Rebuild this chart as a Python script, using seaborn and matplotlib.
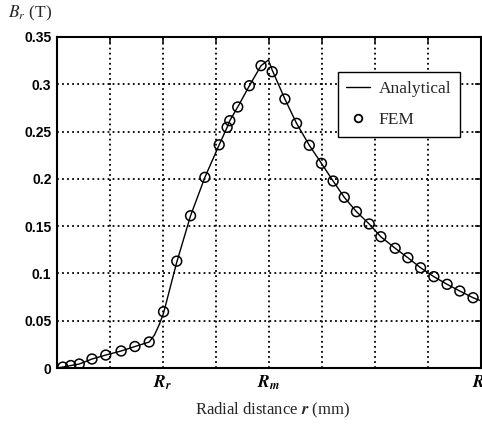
import matplotlib
matplotlib.use("Agg")
import matplotlib.pyplot as plt
import seaborn as sns
import pandas as pd
from matplotlib.lines import Line2D

# Analytical curve (radial position in grid units, B_r in T)
line_x = [0.0, 0.11, 0.26, 0.42, 0.66, 0.92, 1.21, 1.47, 1.74, 1.84, 1.93, 2.01, 2.26, 2.52,
          2.79, 3.06, 3.21, 3.26, 3.41, 3.63, 3.85, 3.99, 4.06, 4.30, 4.52, 4.76, 4.99, 5.21,
          5.42, 5.65, 5.89, 6.11, 6.38, 6.62, 6.86, 7.11, 7.36, 7.60, 7.85, 8.0]
line_y = [0.0, 0.001, 0.0026, 0.0042, 0.0095, 0.0137, 0.018, 0.0227, 0.0275, 0.035, 0.046, 0.058,
          0.112, 0.161, 0.2016, 0.236, 0.2545, 0.2615, 0.276, 0.2985, 0.3197, 0.3257, 0.3150,
          0.2844, 0.2587, 0.2355, 0.2164, 0.1977, 0.1805, 0.1653, 0.1523, 0.1388, 0.1266, 0.1166,
          0.106, 0.0966, 0.0885, 0.0814, 0.0743, 0.071]

# FEM points
fem_x = [0.11, 0.26, 0.42, 0.66, 0.92, 1.21, 1.47, 1.74, 2.01, 2.26, 2.52, 2.79, 3.06, 3.21,
         3.26, 3.41, 3.63, 3.85, 4.06, 4.30, 4.52, 4.76, 4.99, 5.21, 5.42, 5.65, 5.89, 6.11,
         6.38, 6.62, 6.86, 7.11, 7.36, 7.60, 7.85]
fem_y = [0.001, 0.0026, 0.0042, 0.0095, 0.0137, 0.018, 0.0227, 0.0275, 0.0595, 0.113, 0.161,
         0.2016, 0.236, 0.2545, 0.2615, 0.276, 0.2985, 0.3197, 0.3133, 0.2844, 0.2587, 0.2355,
         0.2164, 0.1977, 0.1805, 0.1653, 0.1523, 0.1388, 0.1266, 0.1166, 0.106, 0.0966, 0.0885,
         0.0814, 0.0743]

x_ticks = [0, 1, 2, 3, 4, 5, 6, 7, 8]
x_tick_labels = ["", "", r"$\mathbfit{R}_\mathbfit{r}$", "", r"$\mathbfit{R}_\mathbfit{m}$",
                 "", "", "", r"$\mathbfit{R}_\mathbfit{s}$"]
y_ticks = [0, 0.05, 0.1, 0.15, 0.2, 0.25, 0.3, 0.35]
y_tick_labels = ["0", "0.05", "0.1", "0.15", "0.2", "0.25", "0.3", "0.35"]

sns.set_style("white")
plt.rcParams["font.family"] = ["Liberation Serif", "DejaVu Serif"]
plt.rcParams["mathtext.fontset"] = "stix"

df_line = pd.DataFrame({"r": line_x, "B": line_y})
df_fem = pd.DataFrame({"r": fem_x, "B": fem_y})

fig = plt.figure(figsize=(4.82, 4.28), dpi=100)
ax = fig.add_axes([57 / 482, 1 - 368 / 428, 424 / 482, 331 / 428])

sns.lineplot(data=df_line, x="r", y="B", ax=ax, color="black", linewidth=1.0, zorder=3)
sns.scatterplot(data=df_fem, x="r", y="B", ax=ax, marker="o", s=50,
                facecolor="none", edgecolor="black", linewidth=1.1, zorder=4)

ax.set_xlim(0, 8)
ax.set_ylim(0, 0.35)
ax.set_xticks(x_ticks)
ax.set_xticklabels(x_tick_labels, fontsize=12.5)
ax.set_yticks(y_ticks)
ax.set_yticklabels(y_tick_labels, family="Liberation Sans", fontsize=10, fontweight="bold")
ax.set_xlabel("")
ax.set_ylabel("")

ax.grid(True, color="black", linestyle=(0, (1.0, 1.8)), linewidth=1.3)
ax.tick_params(direction="in", length=4, width=1.1, top=True, right=True,
               colors="black", pad=4)
for s in ax.spines.values():
    s.set_color("black")
    s.set_linewidth(1.5)

handles = [Line2D([0], [0], color="black", linewidth=1.0),
           Line2D([0], [0], marker="o", linestyle="", markerfacecolor="none",
                  markeredgecolor="black", markersize=5.5, markeredgewidth=1.3)]
leg = ax.legend(handles, ["Analytical", "FEM"], loc="upper right",
                bbox_to_anchor=(0.950, 0.894), borderaxespad=0,
                prop={"family": "Liberation Serif", "size": 12.5},
                frameon=True, fancybox=False, framealpha=1, edgecolor="black",
                handlelength=1.35, borderpad=0.5, labelspacing=0.85, handletextpad=0.5)
leg.get_frame().set_linewidth(1.0)

fig.text(8 / 482, 1 - 13 / 428, r"$B_r$ (T)", fontsize=12.5, ha="left", va="center")
fig.text(273 / 482, 1 - 410 / 428, r"Radial distance $\mathbfit{r}$ (mm)", fontsize=12,
         ha="center", va="center")

fig.savefig("out.png", dpi=100)
